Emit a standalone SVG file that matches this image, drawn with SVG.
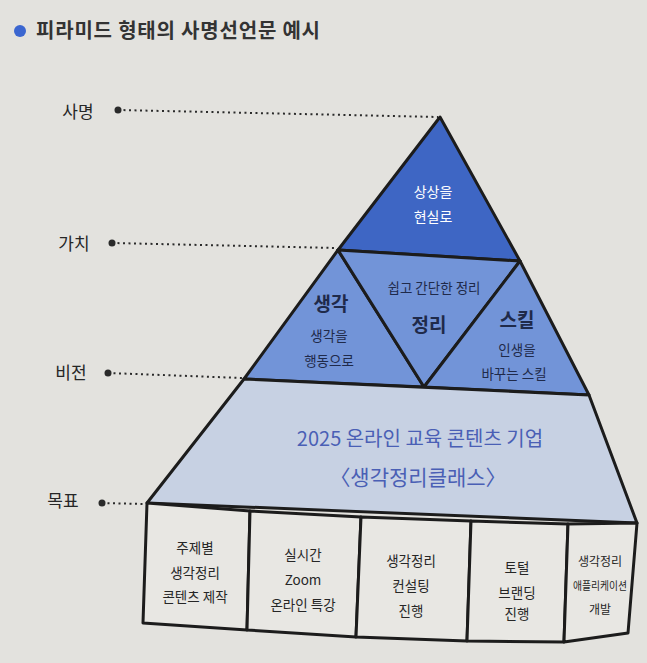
<svg xmlns="http://www.w3.org/2000/svg" width="647" height="663" viewBox="0 0 647 663">
<style>
text{font-family:"Noto Sans CJK KR","Noto Sans",sans-serif;text-anchor:middle;fill:#262626}
.lbl{font-size:17px}
.shape{stroke:#1c1c1c;stroke-width:3;stroke-linejoin:round}
.top{fill:#3e66c4}
.mid{fill:#7294d8}
.band{fill:#c7d1e3}
.box{fill:#e8e7e3}
.w{fill:#ffffff;font-size:14px}
.big{font-size:19px;font-weight:bold;fill:#1f2a4a}
.sm{font-size:13.5px;fill:#1f2a4a}
.bt{font-size:20px;fill:#4a5fb5}
.bx{font-size:13.5px}
.lead{stroke:#2a2a2a;stroke-width:2;stroke-dasharray:2 3.5;fill:none}
.dot{fill:#2a2a2a}
</style>
<rect width="647" height="663" fill="#e3e2de"/>
<g id="title">
<circle cx="20" cy="31" r="6" fill="#3b66d0"/>
<text x="36" y="38" style="text-anchor:start;font-size:20px;font-weight:bold;fill:#333;letter-spacing:0.8px">피라미드 형태의 사명선언문 예시</text>
</g>
<g id="labels">
<text class="lbl" x="78" y="118">사명</text>
<text class="lbl" x="74" y="250">가치</text>
<text class="lbl" x="71" y="379">비전</text>
<text class="lbl" x="63" y="507">목표</text>
</g>
<g id="connectors">
<path class="lead" d="M118 110 L438 117"/>
<circle class="dot" cx="118" cy="110" r="3.5"/>
<path class="lead" d="M112 243 L337 248"/>
<circle class="dot" cx="112" cy="243" r="3.5"/>
<path class="lead" d="M108 373 L242 378"/>
<circle class="dot" cx="108" cy="373" r="3.5"/>
<path class="lead" d="M102 503 L145 504"/>
<circle class="dot" cx="102" cy="503" r="3.5"/>
</g>
<g id="mission">
<polygon class="shape top" points="440,117 338,250 520,261"/>
<text class="w" x="433" y="197">상상을</text>
<text class="w" x="433" y="222">현실로</text>
</g>
<g id="value-think">
<polygon class="shape mid" points="338,250 244,379 424,387"/>
<text class="big" x="331" y="311">생각</text>
<text class="sm" x="329" y="341">생각을</text>
<text class="sm" x="329" y="366">행동으로</text>
</g>
<g id="value-organize">
<polygon class="shape mid" points="338,250 520,261 424,387"/>
<text class="sm" x="434" y="293">쉽고 간단한 정리</text>
<text class="big" x="429" y="332">정리</text>
</g>
<g id="value-skill">
<polygon class="shape mid" points="520,261 424,387 589,395"/>
<text class="big" x="517" y="327">스킬</text>
<text class="sm" x="517" y="355">인생을</text>
<text class="sm" x="514" y="379">바꾸는 스킬</text>
</g>
<g id="vision">
<polygon class="shape band" points="244,379 589,395 637,523 147,503"/>
<text class="bt" x="420" y="446">2025 온라인 교육 콘텐츠 기업</text>
<text class="bt" x="418" y="485" style="font-size:21px">〈생각정리클래스〉</text>
</g>
<g id="goal-1">
<polygon class="shape box" points="147,503 250,511 247,630 143,623"/>
<text class="bx" x="195" y="553">주제별</text>
<text class="bx" x="195" y="578">생각정리</text>
<text class="bx" x="195" y="602">콘텐츠 제작</text>
</g>
<g id="goal-2">
<polygon class="shape box" points="250,511 361,517 356,637 247,630"/>
<text class="bx" x="303" y="560">실시간</text>
<text class="bx" x="303" y="585">Zoom</text>
<text class="bx" x="303" y="610">온라인 특강</text>
</g>
<g id="goal-3">
<polygon class="shape box" points="361,517 471,521 467,641 356,637"/>
<text class="bx" x="411" y="566">생각정리</text>
<text class="bx" x="411" y="591">컨설팅</text>
<text class="bx" x="411" y="616">진행</text>
</g>
<g id="goal-4">
<polygon class="shape box" points="471,521 568,524 564,642 467,641"/>
<text class="bx" x="517" y="573">토털</text>
<text class="bx" x="517" y="598">브랜딩</text>
<text class="bx" x="517" y="619">진행</text>
</g>
<g id="goal-5">
<polygon class="shape box" points="568,524 637,523 628,633 564,642"/>
<text class="bx" x="600" y="566" style="font-size:12px">생각정리</text>
<text class="bx" x="600" y="590" style="font-size:11px" textLength="54" lengthAdjust="spacingAndGlyphs">애플리케이션</text>
<text class="bx" x="600" y="614" style="font-size:12px">개발</text>
</g>
</svg>
